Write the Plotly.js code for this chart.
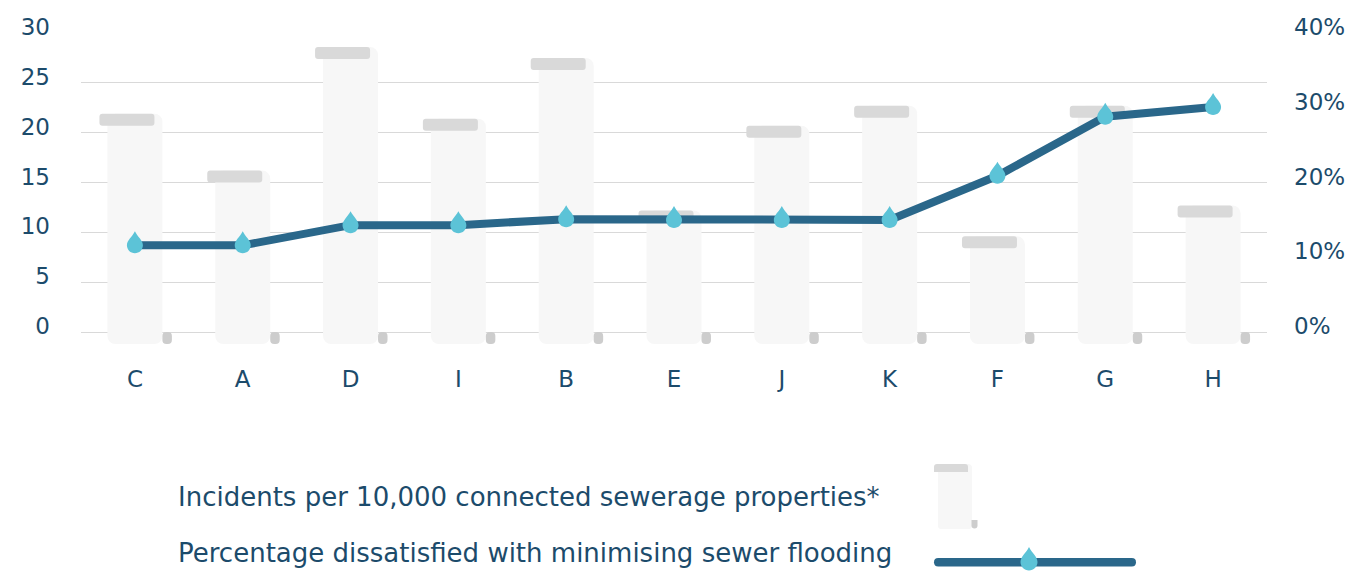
<!DOCTYPE html>
<html>
<head>
<meta charset="utf-8">
<script src="https://cdn.plot.ly/plotly-3.0.1.min.js"></script>
<style>
  html, body { margin: 0; padding: 0; background: #ffffff; }
  #chart { width: 1352px; height: 571px; }
</style>
</head>
<body>
<div id="chart"></div>
<script>
// ---- data ----
var categories = ['C', 'A', 'D', 'I', 'B', 'E', 'J', 'K', 'F', 'G', 'H'];
var incidents = [21.9, 16.2, 28.6, 21.4, 27.5, 12.2, 20.7, 22.7, 9.6, 22.7, 12.7];
var dissatisfied = [11.6, 11.6, 14.3, 14.3, 15.1, 15.0, 15.0, 15.0, 20.9, 28.8, 30.1];
var leftTicks = [0, 5, 10, 15, 20, 25, 30];
var rightTicks = [0, 10, 20, 30, 40];
var legendLabels = ['Incidents per 10,000 connected sewerage properties*',
                    'Percentage dissatisfied with minimising sewer flooding'];

// ---- style ----
var FONT = 'DejaVu Sans, sans-serif';
var TEXT = '#1c4b6b';
var LINE = '#2a678a';
var DROP = '#5cc3d7';
var BODY = '#f7f7f7';
var CAP = '#d9d9d9';
var CURL = '#cdcdcd';
var M = {l: 81, r: 85, t: 33, b: 227};
var PLOT_BOTTOM = 571 - M.b;
var CAP_H = 1.2;   // height of the scroll cap (axis units)
var FOOT = 1.2;    // scroll foot below zero

// helper: paths in pixel offsets (y up)
function dropPath(cx, cy, r, tip) {
  var k = r * 0.5523;
  function p(x, y) { return (cx + x).toFixed(2) + ',' + (cy + y).toFixed(2); }
  return 'M' + p(0, tip) +
    ' C' + p(-r * 0.35, tip * 0.6) + ' ' + p(-r, r * 0.6) + ' ' + p(-r, 0) +
    ' C' + p(-r, -k) + ' ' + p(-k, -r) + ' ' + p(0, -r) +
    ' C' + p(k, -r) + ' ' + p(r, -k) + ' ' + p(r, 0) +
    ' C' + p(r, r * 0.6) + ' ' + p(r * 0.35, tip * 0.6) + ' ' + p(0, tip) + ' Z';
}
// screen-pixel rounded rect -> offsets from plot bottom-left
function rrPath(x0, y0, x1, y1, rTop, rBot) {
  var X0 = x0 - M.l, X1 = x1 - M.l, YT = PLOT_BOTTOM - y0, YB = PLOT_BOTTOM - y1;
  function p(x, y) { return x.toFixed(2) + ',' + y.toFixed(2); }
  return 'M' + p(X0 + rTop, YT) + ' L' + p(X1 - rTop, YT) +
    ' Q' + p(X1, YT) + ' ' + p(X1, YT - rTop) +
    ' L' + p(X1, YB + rBot) + ' Q' + p(X1, YB) + ' ' + p(X1 - rBot, YB) +
    ' L' + p(X0 + rBot, YB) + ' Q' + p(X0, YB) + ' ' + p(X0, YB + rBot) +
    ' L' + p(X0, YT - rTop) + ' Q' + p(X0, YT) + ' ' + p(X0 + rTop, YT) + ' Z';
}

var traces = [
  { // scroll body
    type: 'bar', x: categories, y: incidents.map(function (v) { return v + FOOT; }),
    base: -FOOT, width: 0.51, offset: -0.255, yaxis: 'y',
    marker: {color: BODY, cornerradius: 8, line: {width: 0}},
    hoverinfo: 'skip', showlegend: false
  },
  { // scroll cap
    type: 'bar', x: categories, y: incidents.map(function () { return CAP_H; }),
    base: incidents.map(function (v) { return v - CAP_H; }),
    width: 0.51, offset: -0.329, yaxis: 'y',
    marker: {color: CAP, cornerradius: 3, line: {width: 0}},
    hoverinfo: 'skip', showlegend: false
  },
  { // scroll foot curl
    type: 'bar', x: categories, y: incidents.map(function () { return -FOOT; }),
    base: 0, width: 0.088, offset: 0.255, yaxis: 'y',
    marker: {color: CURL, cornerradius: 5, line: {width: 0}},
    hoverinfo: 'skip', showlegend: false
  },
  { // dissatisfaction line
    type: 'scatter', mode: 'lines', x: categories, y: dissatisfied, yaxis: 'y2',
    line: {color: LINE, width: 8},
    hoverinfo: 'skip', showlegend: false
  }
];

var shapes = [];
// drop markers, anchored to the data via the axes
categories.forEach(function (c, i) {
  shapes.push({
    type: 'path', xref: 'x', yref: 'y2', xsizemode: 'pixel', ysizemode: 'pixel',
    xanchor: c, yanchor: dissatisfied[i],
    path: dropPath(0, 0, 8, 14),
    fillcolor: DROP, line: {width: 0}, layer: 'above'
  });
});
// legend glyphs (pixel positions relative to plot bottom-left)
function legendShape(path, color) {
  shapes.push({
    type: 'path', xref: 'paper', yref: 'paper', xsizemode: 'pixel', ysizemode: 'pixel',
    xanchor: 0, yanchor: 0, path: path, fillcolor: color, line: {width: 0}, layer: 'above'
  });
}
legendShape(rrPath(938, 464, 972, 529, 4, 3), BODY);
legendShape(rrPath(934, 464, 968, 472, 3, 0), CAP);
legendShape(rrPath(971.5, 520, 977.5, 528.5, 0, 3), CURL);
legendShape(rrPath(934, 558, 1136, 566.5, 4.2, 4.2), LINE);
legendShape(dropPath(1029 - M.l, PLOT_BOTTOM - 562, 8.5, 15), DROP);

var annotations = legendLabels.map(function (t, i) {
  return {
    text: t, xref: 'paper', yref: 'paper', x: 0, y: 0, xanchor: 'left', yanchor: 'middle',
    xshift: 176 - M.l, yshift: -([497, 553][i] - PLOT_BOTTOM),
    showarrow: false, font: {family: FONT, size: 26, color: TEXT}
  };
});

var layout = {
  width: 1352, height: 571,
  margin: M,
  paper_bgcolor: '#ffffff', plot_bgcolor: '#ffffff',
  barmode: 'overlay',
  showlegend: false,
  font: {family: FONT, color: TEXT, size: 22},
  xaxis: {
    type: 'category', categoryorder: 'array', categoryarray: categories,
    range: [-0.5, categories.length - 0.5],
    showgrid: false, zeroline: false, showline: false, ticks: '',
    tickfont: {family: FONT, size: 23, color: TEXT},
    ticklabelstandoff: 19
  },
  yaxis: {
    range: [-FOOT, 30], tickvals: leftTicks, ticktext: leftTicks.map(String),
    showgrid: true, gridcolor: '#d9d9d9', gridwidth: 1,
    zeroline: false, showline: false, ticks: '',
    tickfont: {family: FONT, size: 23, color: TEXT},
    ticklabelstandoff: 30, ticklabelshift: -6
  },
  yaxis2: {
    overlaying: 'y', side: 'right',
    range: [-1.6, 40], tickvals: rightTicks, ticktext: rightTicks.map(function (v) { return v + '%'; }),
    showgrid: false, zeroline: false, showline: false, ticks: '',
    tickfont: {family: FONT, size: 23, color: TEXT},
    ticklabelstandoff: 26, ticklabelshift: -6
  },
  shapes: shapes,
  annotations: annotations
};

Plotly.newPlot('chart', traces, layout, {displayModeBar: false, staticPlot: true});
</script>
</body>
</html>
